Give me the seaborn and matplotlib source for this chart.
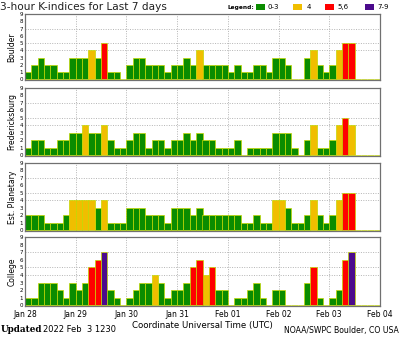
import numpy as np
import pandas as pd
import matplotlib
matplotlib.use("Agg")
import matplotlib.pyplot as plt
from matplotlib.patches import Rectangle
import seaborn as sns

# ---- data (3-hour K-index values, 8 per day, Jan 28 .. Feb 03) ----
days = ["Jan 28", "Jan 29", "Jan 30", "Jan 31", "Feb 01", "Feb 02", "Feb 03", "Feb 04"]
stations = ["Boulder", "Fredericksburg", "Est. Planetary", "College"]

boulder = [1, 2, 3, 2, 2, 1, 1, 3,
           3, 3, 4, 3, 5, 1, 1, 0,
           2, 3, 3, 2, 2, 2, 1, 2,
           2, 3, 2, 4, 2, 2, 2, 2,
           1, 2, 1, 1, 2, 2, 1, 3,
           3, 2, 0, 0, 3, 4, 2, 1,
           2, 4, 5, 5, 0, 0, 0, 0]
fredericksburg = [1, 2, 2, 1, 1, 2, 2, 3,
                  3, 4, 3, 3, 4, 2, 1, 1,
                  2, 3, 3, 1, 2, 2, 1, 2,
                  2, 3, 2, 3, 2, 2, 1, 1,
                  1, 2, 0, 1, 1, 1, 1, 3,
                  3, 3, 1, 0, 2, 4, 1, 1,
                  2, 4, 5, 4, 0, 0, 0, 0]
planetary = [2, 2, 2, 1, 1, 1, 2, 4,
             4, 4, 4, 3, 4, 1, 1, 1,
             3, 3, 3, 2, 2, 2, 1, 3,
             3, 3, 2, 3, 2, 2, 2, 2,
             2, 2, 1, 1, 2, 1, 1, 4,
             4, 3, 1, 1, 2, 4, 2, 1,
             2, 4, 5, 5, 0, 0, 0, 0]
college = [1, 1, 3, 3, 3, 2, 1, 3,
           2, 3, 5, 6, 7, 2, 1, 0,
           1, 2, 3, 3, 4, 3, 1, 2,
           2, 3, 5, 6, 4, 5, 2, 2,
           0, 1, 1, 2, 3, 1, 0, 2,
           2, 0, 0, 0, 3, 5, 1, 0,
           1, 2, 6, 7, 0, 0, 0, 0]
series = [boulder, fredericksburg, planetary, college]

levels = ["0-3", "4", "5,6", "7-9"]
palette = {"0-3": "#0a8c00", "4": "#f0be00", "5,6": "#ff0000", "7-9": "#4b0a8c"}


def level(k):
    if k <= 3:
        return "0-3"
    if k == 4:
        return "4"
    if k <= 6:
        return "5,6"
    return "7-9"


W, H = 400, 340
fig = plt.figure(figsize=(W / 100, H / 100), dpi=100)
plt.rcParams["font.family"] = ["DejaVu Sans"]

# panel extents in pixels (top, bottom)
panels = [(14, 80), (88, 156), (163, 231), (237, 306)]
left_px, right_px = 25, 380

nslots = len(boulder)
for i, (name, vals) in enumerate(zip(stations, series)):
    top, bot = panels[i]
    ax = fig.add_axes([left_px / W, 1 - bot / H, (right_px - left_px) / W, (bot - top) / H])
    df = pd.DataFrame({"slot": np.arange(nslots), "k": vals})
    df["level"] = [level(v) for v in vals]
    ax.set_axisbelow(True)
    # grid
    for d in range(1, 7):
        ax.axvline(d * 8 - 0.5, color="#b4b4b4", lw=0.7, ls=(0, (1, 1.5)), zorder=0)
    for y in (4, 5, 7):
        ax.axhline(y, color="#b4b4b4", lw=0.7, ls=(0, (1, 1.5)), zorder=0)
    sns.barplot(data=df, x="slot", y="k", hue="level", hue_order=levels,
                palette=palette, dodge=False, width=1.0, errorbar=None,
                order=list(range(nslots)), legend=False, ax=ax,
                edgecolor="#c4d800", linewidth=0.5, saturation=1)
    ax.set_xlim(-0.5, nslots - 0.5)
    ax.set_ylim(-0.08, 9)
    ax.set_yticks(range(10))
    ax.set_yticklabels([str(v) for v in range(10)], fontsize=4)
    ax.tick_params(axis="y", length=0, pad=1.5)
    ax.set_ylabel(name, fontsize=5.5, labelpad=2)
    ax.set_xticks([d * 8 - 0.5 for d in range(8)])
    if i == 3:
        ax.set_xticklabels(days, fontsize=5.5)
        ax.tick_params(axis="x", length=0, pad=3)
        ax.set_xlabel("Coordinate Universal Time (UTC)", fontsize=6.2, labelpad=1)
    else:
        ax.set_xticklabels([])
        ax.tick_params(axis="x", length=0)
        ax.set_xlabel("")
    for s in ax.spines.values():
        s.set_color("#707070")
        s.set_linewidth(0.9)

# title
fig.text(0 / W, 1 - 7 / H, "3-hour K-indices for Last 7 days", fontsize=7.6,
         ha="left", va="center", color="#202020")

# legend
fig.text(227 / W, 1 - 7 / H, "Legend:", fontsize=4.2, fontweight="bold",
         ha="left", va="center")
leg_pos = [(256, 268), (293, 307), (325, 337), (365, 377)]
for (sx, tx), lab in zip(leg_pos, levels):
    fig.add_artist(Rectangle((sx / W, 1 - 10 / H), 9 / W, 6 / H,
                             transform=fig.transFigure, facecolor=palette[lab],
                             edgecolor="none"))
    fig.text(tx / W, 1 - 7 / H, lab, fontsize=5, ha="left", va="center")

# footer
fig.text(1 / W, 1 - 330 / H, "Updated", fontsize=6.3, fontweight="bold",
         family="DejaVu Serif", ha="left", va="center")
fig.text(43 / W, 1 - 330 / H, "2022 Feb  3 1230", fontsize=6.0,
         ha="left", va="center")
fig.text(399 / W, 1 - 330 / H, "NOAA/SWPC Boulder, CO USA", fontsize=5.6,
         ha="right", va="center")

fig.savefig("out.png", dpi=100)
